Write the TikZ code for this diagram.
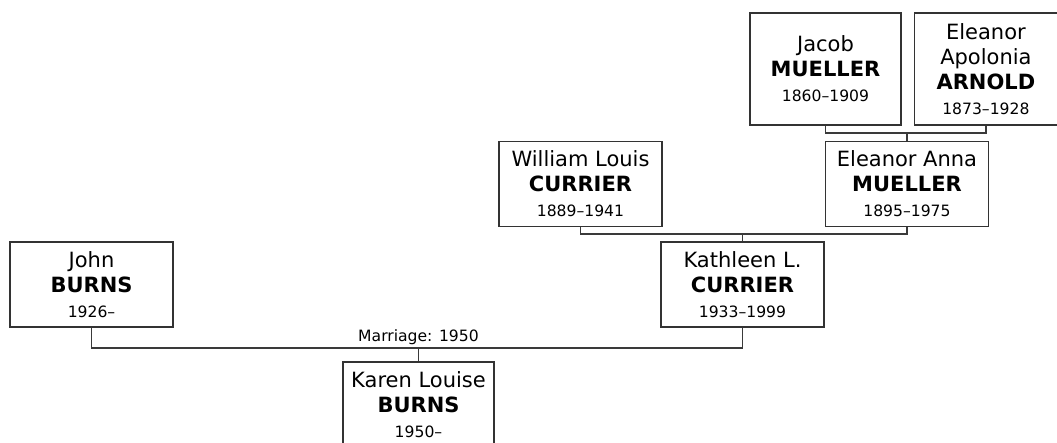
\documentclass[tikz,border=0pt]{standalone}
\usepackage{fontspec}
\setmainfont{DejaVu Sans}
\usetikzlibrary{positioning}
\definecolor{cbox}{HTML}{333333}
\definecolor{cline}{HTML}{3A3A3A}
\newcommand{\yrs}{\fontsize{7.8}{9.5}\selectfont}
\tikzset{
  person/.style={draw=cbox, line width=0.7pt, fill=white, align=center,
                 inner sep=2pt, minimum width=81.5pt, minimum height=42.5pt,
                 font=\fontsize{10.5}{12.5}\selectfont},
  tallperson/.style={person, minimum height=56pt},
  link/.style={draw=cline, line width=0.65pt},
  mlabel/.style={font=\yrs, inner sep=1.5pt, above},
}

\begin{document}
\begin{tikzpicture}[x=0.5pt, y=-0.5pt]
  \useasboundingbox (0,0) rectangle (1057,443);
  % grandparents
  \node[tallperson, minimum width=75.5pt] (jacob) at (825.5,69)
    {Jacob\\\textbf{MUELLER}\\{\yrs 1860–1909}};
  \node[tallperson, minimum width=71.5pt, right=6pt of jacob] (eleanorap)
    {Eleanor\\Apolonia\\\textbf{ARNOLD}\\{\yrs 1873–1928}};
  % parents
  \node[person] (william) at (580.5,184)
    {William Louis\\\textbf{CURRIER}\\{\yrs 1889–1941}};
  \node[person] (eleanoranna) at (907,184)
    {Eleanor Anna\\\textbf{MUELLER}\\{\yrs 1895–1975}};
  % couple
  \node[person] (john) at (91.5,284.5)
    {John\\\textbf{BURNS}\\{\yrs 1926–}};
  \node[person] (kathleen) at (742.5,284.5)
    {Kathleen L.\\\textbf{CURRIER}\\{\yrs 1933–1999}};
  % child
  \node[person, minimum width=75.5pt] (karen) at (418.5,404.5)
    {Karen Louise\\\textbf{BURNS}\\{\yrs 1950–}};

  \coordinate (fam2) at (eleanoranna.north |- 0,133);
  \draw[link] (jacob.south) |- (fam2) -| (eleanorap.south);
  \draw[link] (fam2) -- (eleanoranna.north);

  \coordinate (fam1) at (kathleen.north |- 0,234);
  \draw[link] (william.south) |- (fam1) -| (eleanoranna.south);
  \draw[link] (fam1) -- (kathleen.north);

  \coordinate (marr) at (karen.north |- 0,348);
  \draw[link] (john.south) |- (marr) -| (kathleen.south);
  \draw[link] (marr) -- (karen.north);
  \node[mlabel] (marrlabel) at (marr) {Marriage: 1950};
\end{tikzpicture}
\end{document}
